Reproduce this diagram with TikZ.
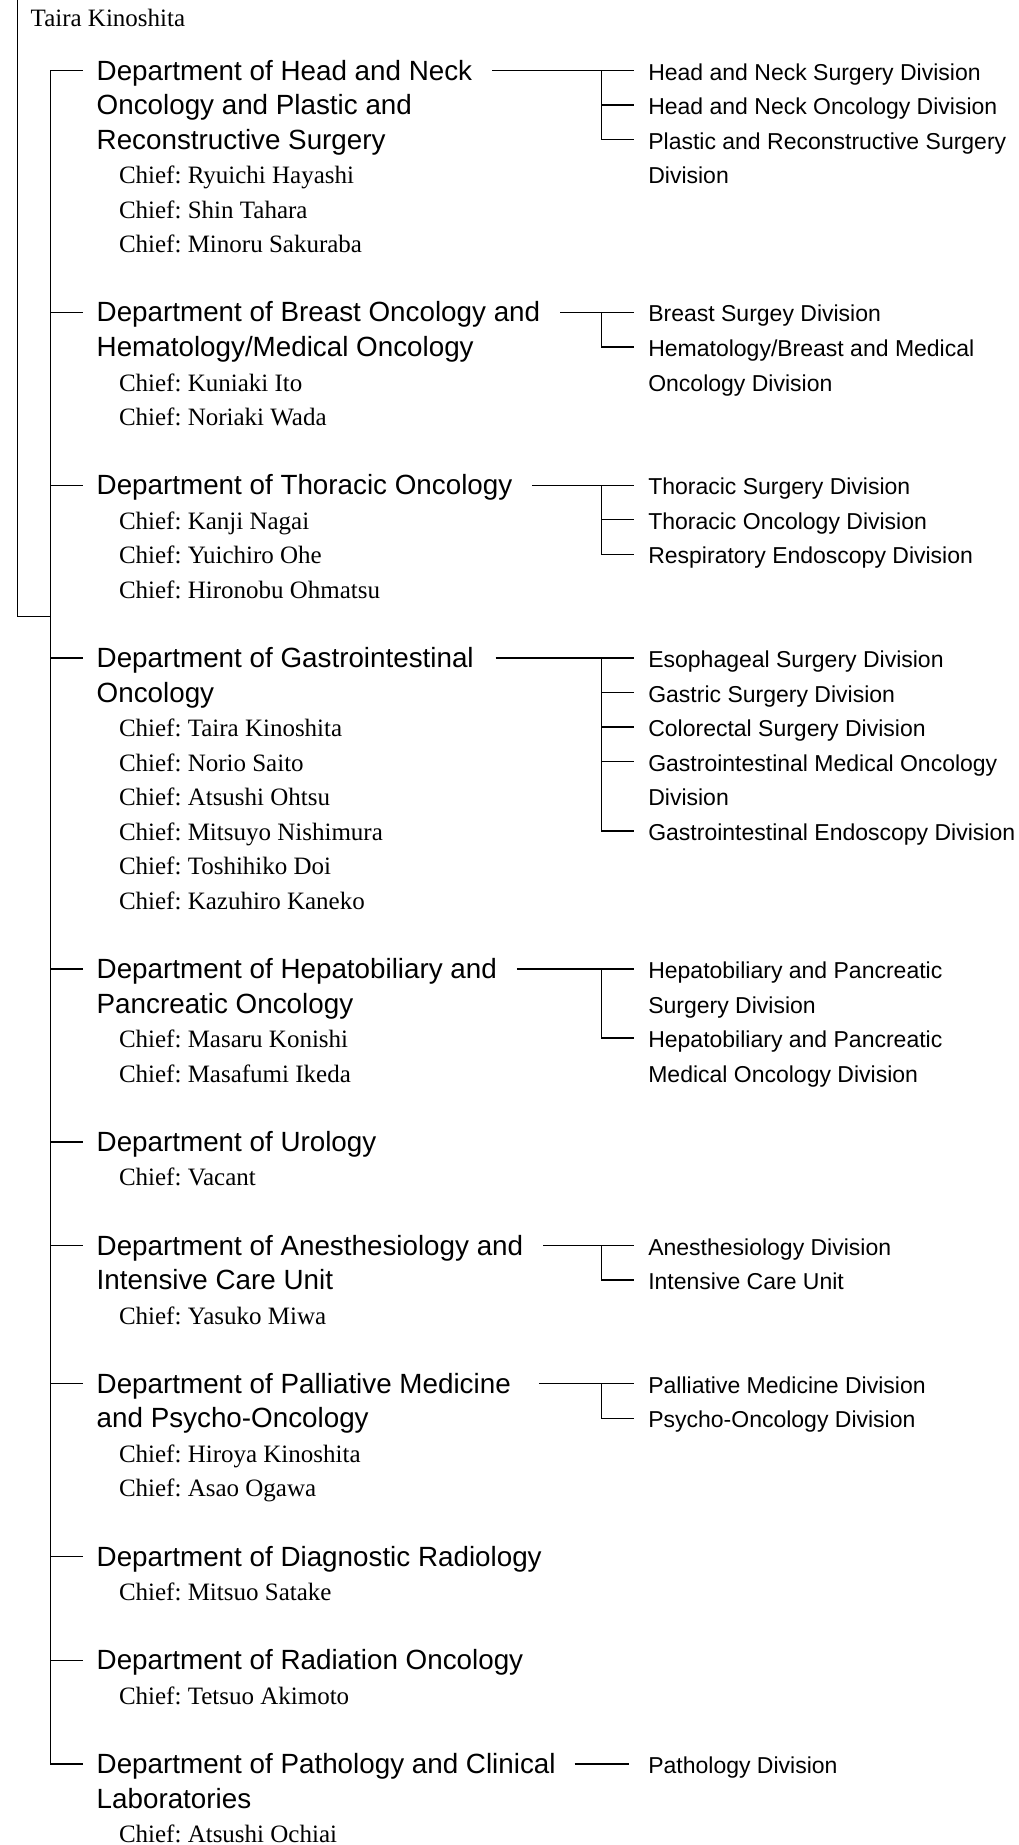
\documentclass[tikz,border=0pt]{standalone}
\usepackage{fontspec}
\usetikzlibrary{calc}
\newfontfamily\sansf{Liberation Sans}
\newfontfamily\seriff{Liberation Serif}
\newcommand\deptfont{\sansf\fontsize{27.8pt}{34.56pt}\selectfont}
\newcommand\divfont{\sansf\fontsize{23pt}{34.56pt}\selectfont}
\newcommand\chieffont{\seriff\fontsize{25pt}{34.56pt}\selectfont}
\frenchspacing
\begin{document}
\begin{tikzpicture}[x=1pt,y=-1pt,
  dept/.style={font=\deptfont,anchor=base west,inner sep=0pt,outer sep=0pt},
  chief/.style={font=\chieffont,anchor=base west,inner sep=0pt,outer sep=0pt},
  divn/.style={font=\divfont,anchor=base west,inner sep=0pt,outer sep=0pt},
  link/.style={line width=1.4pt,black}]
\fill[white] (0,0) rectangle (1019,1845);
\useasboundingbox (0,0) rectangle (1019,1845);

% ---------- root ----------
\node[chief] (root) at (30.7,26) {Taira Kinoshita};

% ---------- department 1 ----------
\node[dept] (d1a) at (96.7,80) {Department of Head and Neck};
\node[dept] (d1b) at (96.7,114.56) {Oncology and Plastic and};
\node[dept] (d1c) at (96.7,149.12) {Reconstructive Surgery};
\node[chief] (c1a) at (119,183.68) {Chief: Ryuichi Hayashi};
\node[chief] (c1b) at (119,218.24) {Chief: Shin Tahara};
\node[chief] (c1c) at (119,252.80) {Chief: Minoru Sakuraba};
\node[divn] (v1a) at (648.3,80) {Head and Neck Surgery Division};
\node[divn] (v1b) at (648.3,114.56) {Head and Neck Oncology Division};
\node[divn] (v1c) at (648.3,149.12) {Plastic and Reconstructive Surgery};
\node[divn] (v1d) at (648.3,183.68) {Division};

% ---------- department 2 ----------
\node[dept] (d2a) at (96.7,321.92) {Department of Breast Oncology and};
\node[dept] (d2b) at (96.7,356.48) {Hematology/Medical Oncology};
\node[chief] (c2a) at (119,391.04) {Chief: Kuniaki Ito};
\node[chief] (c2b) at (119,425.60) {Chief: Noriaki Wada};
\node[divn] (v2a) at (648.3,321.92) {Breast Surgey Division};
\node[divn] (v2b) at (648.3,356.48) {Hematology/Breast and Medical};
\node[divn] (v2c) at (648.3,391.04) {Oncology Division};

% ---------- department 3 ----------
\node[dept] (d3a) at (96.7,494.72) {Department of Thoracic Oncology};
\node[chief] (c3a) at (119,529.28) {Chief: Kanji Nagai};
\node[chief] (c3b) at (119,563.84) {Chief: Yuichiro Ohe};
\node[chief] (c3c) at (119,598.40) {Chief: Hironobu Ohmatsu};
\node[divn] (v3a) at (648.3,494.72) {Thoracic Surgery Division};
\node[divn] (v3b) at (648.3,529.28) {Thoracic Oncology Division};
\node[divn] (v3c) at (648.3,563.84) {Respiratory Endoscopy Division};

% ---------- department 4 ----------
\node[dept] (d4a) at (96.7,667.52) {Department of Gastrointestinal};
\node[dept] (d4b) at (96.7,702.08) {Oncology};
\node[chief] (c4a) at (119,736.64) {Chief: Taira Kinoshita};
\node[chief] (c4b) at (119,771.20) {Chief: Norio Saito};
\node[chief] (c4c) at (119,805.76) {Chief: Atsushi Ohtsu};
\node[chief] (c4d) at (119,840.32) {Chief: Mitsuyo Nishimura};
\node[chief] (c4e) at (119,874.88) {Chief: Toshihiko Doi};
\node[chief] (c4f) at (119,909.44) {Chief: Kazuhiro Kaneko};
\node[divn] (v4a) at (648.3,667.52) {Esophageal Surgery Division};
\node[divn] (v4b) at (648.3,702.08) {Gastric Surgery Division};
\node[divn] (v4c) at (648.3,736.64) {Colorectal Surgery Division};
\node[divn] (v4d) at (648.3,771.20) {Gastrointestinal Medical Oncology};
\node[divn] (v4e) at (648.3,805.76) {Division};
\node[divn] (v4f) at (648.3,840.32) {Gastrointestinal Endoscopy Division};

% ---------- department 5 ----------
\node[dept] (d5a) at (96.7,978.56) {Department of Hepatobiliary and};
\node[dept] (d5b) at (96.7,1013.12) {Pancreatic Oncology};
\node[chief] (c5a) at (119,1047.68) {Chief: Masaru Konishi};
\node[chief] (c5b) at (119,1082.24) {Chief: Masafumi Ikeda};
\node[divn] (v5a) at (648.3,978.56) {Hepatobiliary and Pancreatic};
\node[divn] (v5b) at (648.3,1013.12) {Surgery Division};
\node[divn] (v5c) at (648.3,1047.68) {Hepatobiliary and Pancreatic};
\node[divn] (v5d) at (648.3,1082.24) {Medical Oncology Division};

% ---------- department 6 ----------
\node[dept] (d6a) at (96.7,1151.36) {Department of Urology};
\node[chief] (c6a) at (119,1185.92) {Chief: Vacant};

% ---------- department 7 ----------
\node[dept] (d7a) at (96.7,1255.04) {Department of Anesthesiology and};
\node[dept] (d7b) at (96.7,1289.60) {Intensive Care Unit};
\node[chief] (c7a) at (119,1324.16) {Chief: Yasuko Miwa};
\node[divn] (v7a) at (648.3,1255.04) {Anesthesiology Division};
\node[divn] (v7b) at (648.3,1289.60) {Intensive Care Unit};

% ---------- department 8 ----------
\node[dept] (d8a) at (96.7,1393.28) {Department of Palliative Medicine};
\node[dept] (d8b) at (96.7,1427.84) {and Psycho-Oncology};
\node[chief] (c8a) at (119,1462.40) {Chief: Hiroya Kinoshita};
\node[chief] (c8b) at (119,1496.96) {Chief: Asao Ogawa};
\node[divn] (v8a) at (648.3,1393.28) {Palliative Medicine Division};
\node[divn] (v8b) at (648.3,1427.84) {Psycho-Oncology Division};

% ---------- department 9 ----------
\node[dept] (d9a) at (96.7,1566.08) {Department of Diagnostic Radiology};
\node[chief] (c9a) at (119,1600.64) {Chief: Mitsuo Satake};

% ---------- department 10 ----------
\node[dept] (d10a) at (96.7,1669.76) {Department of Radiation Oncology};
\node[chief] (c10a) at (119,1704.32) {Chief: Tetsuo Akimoto};

% ---------- department 11 ----------
\node[dept] (d11a) at (96.7,1773.44) {Department of Pathology and Clinical};
\node[dept] (d11b) at (96.7,1808.00) {Laboratories};
\node[chief] (c11a) at (119,1842.56) {Chief: Atsushi Ochiai};
\node[divn] (v11a) at (648.3,1773.44) {Pathology Division};

% ---------- main tree ----------
\coordinate (top) at (17.3,0);
\coordinate (join) at (17.3,616.7);
\coordinate (t1) at (50.7,70.5);
\coordinate (t2) at (50.7,312.42);
\coordinate (t3) at (50.7,485.22);
\coordinate (t4) at (50.7,658.02);
\coordinate (t5) at (50.7,969.06);
\coordinate (t6) at (50.7,1141.86);
\coordinate (t7) at (50.7,1245.54);
\coordinate (t8) at (50.7,1383.78);
\coordinate (t9) at (50.7,1556.58);
\coordinate (t10) at (50.7,1660.26);
\coordinate (t11) at (50.7,1763.94);

\draw[link] (top) -- (join) -- (join -| t1);
\draw[link] ($(t1 -| d1a.west)+(-14,0)$) -- (t1) -- (t11) -- ($(t11 -| d11a.west)+(-14,0)$);
\foreach \k in {2,...,10}{
  \draw[link] (t\k) -- ($(t\k -| d\k a.west)+(-14,0)$);
}

% ---------- division brackets ----------
\coordinate (b1) at (601.7,70.5);
\coordinate (b1b) at (601.7,105.06);
\coordinate (b1c) at (601.7,139.62);
\draw[link] ($(b1 -| d1a.east)+(20,0)$) -- ($(b1 -| v1a.west)+(-14,0)$);
\draw[link] (b1) -- (b1c) -- ($(b1c -| v1c.west)+(-14,0)$);
\draw[link] (b1b) -- ($(b1b -| v1b.west)+(-14,0)$);

\coordinate (b2) at (601.7,312.42);
\coordinate (b2b) at (601.7,346.98);
\draw[link] ($(b2 -| d2a.east)+(20,0)$) -- ($(b2 -| v2a.west)+(-14,0)$);
\draw[link] (b2) -- (b2b) -- ($(b2b -| v2b.west)+(-14,0)$);

\coordinate (b3) at (601.7,485.22);
\coordinate (b3b) at (601.7,519.78);
\coordinate (b3c) at (601.7,554.34);
\draw[link] ($(b3 -| d3a.east)+(20,0)$) -- ($(b3 -| v3a.west)+(-14,0)$);
\draw[link] (b3) -- (b3c) -- ($(b3c -| v3c.west)+(-14,0)$);
\draw[link] (b3b) -- ($(b3b -| v3b.west)+(-14,0)$);

\coordinate (b4) at (601.7,658.02);
\coordinate (b4b) at (601.7,692.58);
\coordinate (b4c) at (601.7,727.14);
\coordinate (b4d) at (601.7,761.70);
\coordinate (b4f) at (601.7,830.82);
\draw[link] ($(b4 -| d4a.east)+(22,0)$) -- ($(b4 -| v4a.west)+(-14,0)$);
\draw[link] (b4) -- (b4f) -- ($(b4f -| v4f.west)+(-14,0)$);
\draw[link] (b4b) -- ($(b4b -| v4b.west)+(-14,0)$);
\draw[link] (b4c) -- ($(b4c -| v4c.west)+(-14,0)$);
\draw[link] (b4d) -- ($(b4d -| v4d.west)+(-14,0)$);

\coordinate (b5) at (601.7,969.06);
\coordinate (b5c) at (601.7,1038.18);
\draw[link] ($(b5 -| d5a.east)+(20,0)$) -- ($(b5 -| v5a.west)+(-14,0)$);
\draw[link] (b5) -- (b5c) -- ($(b5c -| v5c.west)+(-14,0)$);

\coordinate (b7) at (601.7,1245.54);
\coordinate (b7b) at (601.7,1280.10);
\draw[link] ($(b7 -| d7a.east)+(20,0)$) -- ($(b7 -| v7a.west)+(-14,0)$);
\draw[link] (b7) -- (b7b) -- ($(b7b -| v7b.west)+(-14,0)$);

\coordinate (b8) at (601.7,1383.78);
\coordinate (b8b) at (601.7,1418.34);
\draw[link] ($(b8 -| d8a.east)+(28,0)$) -- ($(b8 -| v8a.west)+(-14,0)$);
\draw[link] (b8) -- (b8b) -- ($(b8b -| v8b.west)+(-14,0)$);

\coordinate (b11) at (601.7,1763.94);
\draw[link] ($(b11 -| d11a.east)+(19,0)$) -- ($(b11 -| v11a.west)+(-19,0)$);
\end{tikzpicture}
\end{document}
